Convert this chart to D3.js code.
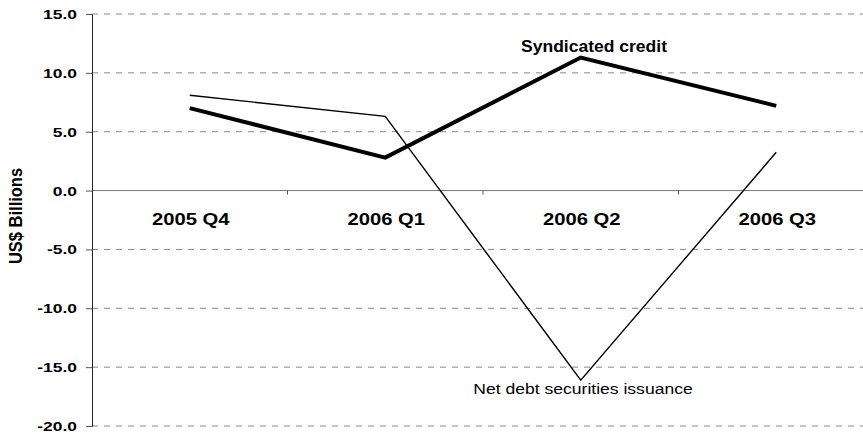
<!DOCTYPE html>
<html>
<head>
<meta charset="utf-8">
<script src="https://cdn.jsdelivr.net/npm/d3@7"></script>
<style>
  body { margin:0; background:#fff; }
  text { font-family: "Liberation Sans", Arial, sans-serif; fill:#000; }
</style>
</head>
<body>
<div id="chart"></div>
<script>
// data
var categories = ["2005 Q4","2006 Q1","2006 Q2","2006 Q3"];
var syndicated = [7.0, 2.8, 11.3, 7.2];
var netDebt    = [8.1, 6.3, -16.1, 3.25];
var yTicks     = [15, 10, 5, 0, -5, -10, -15, -20];

var W = 863, H = 437;
var svg = d3.select("#chart").append("svg")
    .attr("width", W).attr("height", H);

var x0 = 92;
var x = d3.scaleBand().domain(categories).range([x0, x0 + 4*195.5]).padding(0);
var y = d3.scaleLinear().domain([-20, 15]).range([426, 14]);

// gridlines
svg.append("g").selectAll("line")
    .data(yTicks)
    .enter().append("line")
    .attr("x1", x0).attr("x2", W)
    .attr("y1", function(d){ return y(d); })
    .attr("y2", function(d){ return y(d); })
    .attr("stroke", function(d){ return d == 0 ? "#777" : "#888"; })
    .attr("stroke-width", 1)
    .attr("stroke-dasharray", function(d){ return d == 0 ? null : "6,6"; });

// y axis
var yAxis = d3.axisLeft(y).tickValues(yTicks).tickSize(6).tickFormat(d3.format(".1f"));
var ya = svg.append("g").attr("transform", "translate(" + x0 + ",0)").call(yAxis);
ya.select(".domain").attr("stroke", "#222");
ya.selectAll(".tick line").attr("stroke", "#555");
ya.selectAll(".tick text").remove();

// y tick labels, stretched wide like the scan
svg.append("g").selectAll("text")
    .data(yTicks)
    .enter().append("text")
    .attr("transform", function(d){ return "translate(77," + (y(d)+5) + ") scale(1.29,1)"; })
    .attr("text-anchor", "end")
    .style("font-size", "13.5px")
    .style("font-weight", "bold")
    .text(function(d){ return d3.format(".1f")(d).replace("−","-"); });

// category boundary ticks on the zero line
var xAxis = d3.axisBottom(x).tickSize(0).tickFormat("");
svg.append("g").selectAll("line")
    .data(categories.slice(1))
    .enter().append("line")
    .attr("x1", function(d){ return x(d); })
    .attr("x2", function(d){ return x(d); })
    .attr("y1", y(0)).attr("y2", y(0)+4)
    .attr("stroke", "#555");

// category labels
svg.append("g").selectAll("text")
    .data(categories)
    .enter().append("text")
    .attr("transform", function(d){ return "translate(" + (x(d) + x.bandwidth()/2 + 1) + ",225) scale(1.19,1)"; })
    .attr("text-anchor", "middle")
    .style("font-size", "17px")
    .style("font-weight", "bold")
    .text(function(d){ return d; });

// lines
var line = d3.line()
    .x(function(d, i){ return x(categories[i]) + x.bandwidth()/2; })
    .y(function(d){ return y(d); });

svg.append("path")
    .datum(netDebt)
    .attr("d", line)
    .attr("fill", "none")
    .attr("stroke", "#000")
    .attr("stroke-width", 1.4);

svg.append("path")
    .datum(syndicated)
    .attr("d", line)
    .attr("fill", "none")
    .attr("stroke", "#000")
    .attr("stroke-width", 4);

// series labels
svg.append("text")
    .attr("transform", "translate(594,52) scale(1.03,1)")
    .attr("text-anchor", "middle")
    .style("font-size", "17px")
    .style("font-weight", "bold")
    .text("Syndicated credit");

svg.append("text")
    .attr("transform", "translate(583,394) scale(1.17,1)")
    .attr("text-anchor", "middle")
    .style("font-size", "15px")
    .text("Net debt securities issuance");

// y title
svg.append("text")
    .attr("transform", "translate(16,216) rotate(-90) scale(1,1.1)")
    .attr("text-anchor", "middle")
    .attr("dominant-baseline", "central")
    .style("font-size", "16.5px")
    .style("font-weight", "bold")
    .text("US$ Billions");
</script>
</body>
</html>
